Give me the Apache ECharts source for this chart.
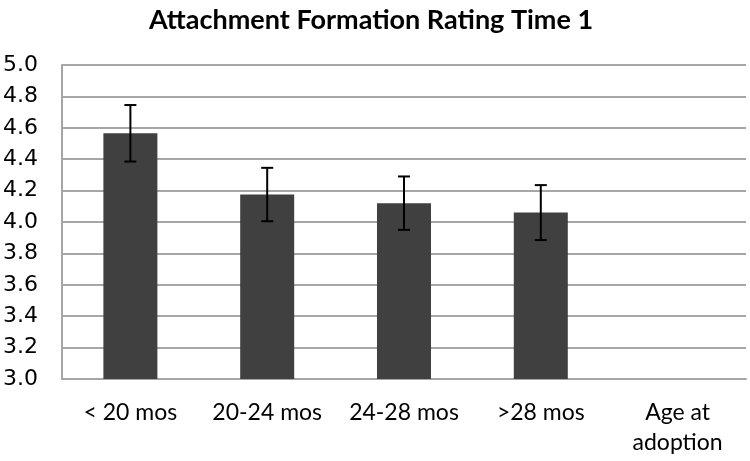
<!DOCTYPE html>
<html>
<head>
<meta charset="utf-8">
<script src="https://cdn.jsdelivr.net/npm/echarts@6/dist/echarts.min.js"></script>
<style>html,body{margin:0;padding:0;background:#fff;}#c{width:750px;height:461px;}</style>
</head>
<body>
<div id="c"></div>
<script>
var categories = ['< 20 mos', '20-24 mos', '24-28 mos', '>28 mos', 'Age at\nadoption'];
var means = [4.565, 4.175, 4.12, 4.06, null];
var errors = [0.18, 0.17, 0.17, 0.175, null];
var titleText = 'Attachment Formation Rating Time 1';

var chart = echarts.init(document.getElementById('c'), null, {renderer: 'canvas'});
var errData = [];
for (var i = 0; i < means.length; i++) {
  if (means[i] != null) errData.push([i, means[i] - errors[i], means[i] + errors[i]]);
}
chart.setOption({
  animation: false,
  backgroundColor: '#ffffff',
  title: {
    text: titleText,
    left: 366, top: 2, textAlign: 'center',
    textStyle: {fontFamily: 'Lato', fontWeight: 'bold', fontSize: 27, color: '#000'}
  },
  grid: {left: 59, right: 4, top: 65, bottom: 82, containLabel: false},
  xAxis: {
    type: 'category',
    data: categories,
    axisTick: {show: false},
    axisLine: {show: true, lineStyle: {color: '#a6a6a6', width: 2}},
    axisLabel: {
      fontFamily: 'Lato', fontSize: 23, color: '#000', margin: 19, lineHeight: 30, interval: 0
    }
  },
  yAxis: {
    type: 'value', min: 3, max: 5, interval: 0.2,
    axisLine: {show: true, lineStyle: {color: '#a6a6a6', width: 2}},
    axisTick: {show: false},
    splitLine: {show: true, lineStyle: {color: '#a6a6a6', width: 2}},
    axisLabel: {
      fontFamily: 'DejaVu Sans', fontSize: 22, color: '#000', margin: 24,
      formatter: function (v) { return v.toFixed(1); }
    }
  },
  series: [
    {
      type: 'bar', data: means, barWidth: 54,
      itemStyle: {color: '#404040'}
    },
    {
      type: 'custom', data: errData, z: 10,
      renderItem: function (params, api) {
        var x = api.value(0);
        var lo = api.coord([x, api.value(1)]);
        var hi = api.coord([x, api.value(2)]);
        var hw = 6;
        var st = {stroke: '#000', lineWidth: 2};
        return {
          type: 'group',
          children: [
            {type: 'line', shape: {x1: lo[0], y1: lo[1], x2: hi[0], y2: hi[1]}, style: st},
            {type: 'line', shape: {x1: lo[0] - hw, y1: lo[1], x2: lo[0] + hw, y2: lo[1]}, style: st},
            {type: 'line', shape: {x1: hi[0] - hw, y1: hi[1], x2: hi[0] + hw, y2: hi[1]}, style: st}
          ]
        };
      }
    }
  ]
});
</script>
</body>
</html>
